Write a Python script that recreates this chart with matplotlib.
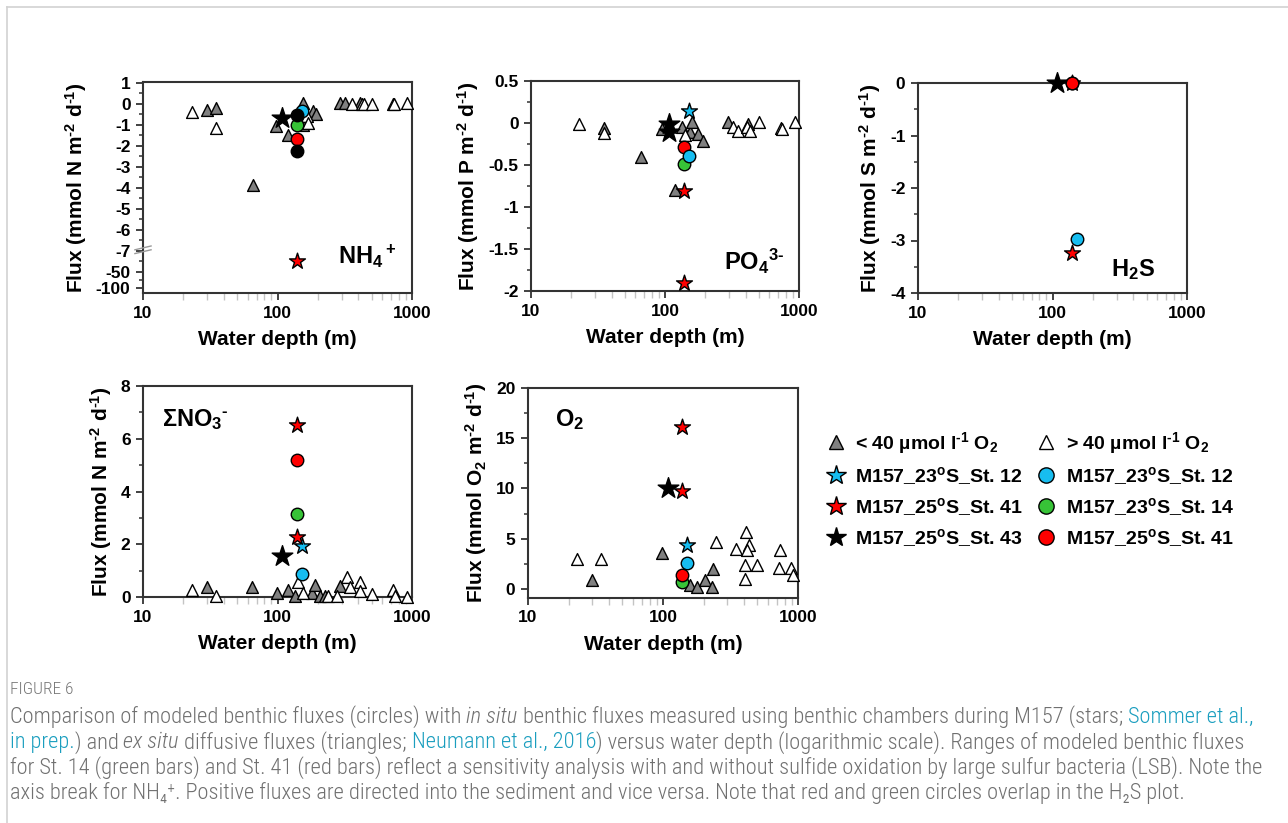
import numpy as np
import matplotlib
matplotlib.use("Agg")
import matplotlib.pyplot as plt
from matplotlib.lines import Line2D
from matplotlib.ticker import FixedLocator, FuncFormatter, NullFormatter
from matplotlib import font_manager

W, H = 1288, 823

plt.rcParams["font.family"] = ["Liberation Sans", "DejaVu Sans"]
plt.rcParams["font.weight"] = "bold"
plt.rcParams["axes.labelweight"] = "bold"
plt.rcParams["axes.unicode_minus"] = False
plt.rcParams["mathtext.default"] = "regular"

HY = "\u2010"  # short hyphen for superscripts (mathtext turns '-' into a wide minus)

# station depths (m)
D_ST12, D_ST14, D_ST41, D_ST43 = 151, 139, 139, 108

# ---- NH4+ ----
NH4_LOW_X = [30, 35, 66, 98, 120, 155, 156, 185, 192, 292, 318, 412]
NH4_LOW_Y = [-0.3, -0.2, -3.86, -1.08, -1.5, -1.0, 0.05, -0.35, -0.5, 0.02, 0.02, 0.02]
NH4_HIGH_X = [23, 35, 165, 170, 356, 422, 440, 500, 727, 740, 913]
NH4_HIGH_Y = [-0.4, -1.15, -0.6, -0.9, 0.0, 0.0, 0.0, 0.0, 0.0, -0.02, 0.02]
NH4_STAR_CYAN, NH4_STAR_RED, NH4_STAR_BLACK = [], [-28], [-0.7]
NH4_CIRC_CYAN, NH4_CIRC_GREEN, NH4_CIRC_RED = [-0.33], [-1.03], [-1.67]
NH4_CIRC_BLACK = [-0.52, -2.24]

# ---- PO4 3- ----
PO4_LOW_X = [35, 66, 95, 119, 133, 154, 158, 177, 191, 293, 417]
PO4_LOW_Y = [-0.06, -0.40, -0.07, -0.80, -0.05, -0.11, 0.01, -0.13, -0.21, 0.01, -0.01]
PO4_HIGH_X = [23, 35, 141, 324, 352, 407, 431, 506, 740, 752, 929]
PO4_HIGH_Y = [-0.01, -0.115, -0.14, -0.05, -0.09, -0.05, -0.09, 0.01, -0.06, -0.07, 0.01]
PO4_STAR_CYAN, PO4_STAR_RED, PO4_STAR_BLACK = [0.14], [-0.81, -1.90], [-0.01, -0.11]
PO4_CIRC_CYAN, PO4_CIRC_GREEN, PO4_CIRC_RED = [-0.39], [-0.49], [-0.285]

# ---- H2S ----
H2S_STAR_CYAN, H2S_STAR_RED, H2S_STAR_BLACK = [], [0.0, -3.23], [0.0]
H2S_CIRC_CYAN, H2S_CIRC_GREEN, H2S_CIRC_RED = [-2.97], [0.0], [0.0]

# ---- sum NO3- ----
NO3_LOW_X = [30, 65, 99, 120, 135, 180, 190, 207, 226, 292]
NO3_LOW_Y = [0.38, 0.38, 0.14, 0.26, 0.04, 0.14, 0.46, 0.04, 0.04, 0.42]
NO3_HIGH_X = [23, 35, 143, 155, 239, 276, 327, 346, 411, 411, 501, 727, 748, 913]
NO3_HIGH_Y = [0.26, 0.04, 0.55, 0.16, 0.04, 0.04, 0.74, 0.38, 0.55, 0.23, 0.1, 0.26, 0.04, 0.0]
NO3_STAR_CYAN, NO3_STAR_RED, NO3_STAR_BLACK = [1.94], [6.54, 2.27], [1.55]
NO3_CIRC_CYAN, NO3_CIRC_GREEN, NO3_CIRC_RED = [0.86], [3.15], [5.21]

# ---- O2 ----
O2_LOW_X = [30, 98, 158, 178, 205, 230, 234]
O2_LOW_Y = [0.94, 3.58, 0.37, 0.2, 0.87, 0.2, 2.03]
O2_HIGH_X = [23, 35, 248, 348, 413, 432, 421, 408, 408, 496, 738, 723, 887, 912]
O2_HIGH_Y = [3.02, 3.02, 4.68, 4.02, 5.67, 4.35, 3.85, 2.36, 1.03, 2.36, 3.85, 2.09, 2.13, 1.36]
O2_STAR_CYAN, O2_STAR_RED, O2_STAR_BLACK = [4.35], [16.1, 9.72], [10.05]
O2_CIRC_CYAN, O2_CIRC_GREEN, O2_CIRC_RED = [2.59], [0.70], [1.43]

CYAN, GREEN, RED, GRAY = "#17bdf0", "#37c337", "#ff0000", "#808080"
MS_TRI, MS_CIRC, MS_STAR = 8.5, 9.0, 12.0

# NH4 axis break: piecewise linear value -> position
BRK_V = [-200, -100, -50, -7, 1, 3]
BRK_P = [-10.34, -8.78, -8.0, -7.0, 1.0, 3.0]


def fwd(v):
    return np.interp(v, BRK_V, BRK_P)


def inv(p):
    return np.interp(p, BRK_P, BRK_V)


fig = plt.figure(figsize=(W / 100, H / 100), dpi=100)


def px_axes(l, t, r, b):
    return fig.add_axes([l / W, 1 - b / H, (r - l) / W, (b - t) / H])


def flux_label(species):
    return f"Flux (mmol {species} m$^{{{HY}2}}$ d$^{{{HY}1}}$)"


def style(ax, ylabel):
    ax.set_xscale("log")
    ax.set_xlim(10, 1000)
    ax.set_xticks([10, 100, 1000])
    ax.set_xticklabels(["10", "100", "1000"])
    ax.xaxis.set_minor_locator(FixedLocator([k * 10 ** e for e in (1, 2) for k in range(2, 10)]))
    ax.xaxis.set_minor_formatter(NullFormatter())
    ax.tick_params(which="major", direction="out", length=5, width=1.3, color="#333333",
                   labelsize=12.5, pad=4)
    ax.tick_params(axis="y", which="minor", direction="out", length=3, width=1.1, color="#333333")
    ax.tick_params(axis="x", which="minor", direction="out", length=5, width=1.0, color="#c4c4c4")
    for sp in ax.spines.values():
        sp.set_linewidth(1.5)
        sp.set_color("#333333")
    ax.set_xlabel("Water depth (m)", fontsize=15, labelpad=7)
    ax.set_ylabel(ylabel, fontsize=15, labelpad=5)


def draw(ax, lx, ly, hx, hy, sc, sr, sk, cc, cg, cr, ck=()):
    kw = dict(edgecolors="black", linewidths=1.0, clip_on=False)
    ax.scatter(lx, ly, marker="^", s=MS_TRI ** 2, color=GRAY, zorder=3, **kw)
    ax.scatter(hx, hy, marker="^", s=MS_TRI ** 2, color="white", zorder=3, **kw)
    ax.scatter([D_ST43] * len(sk), sk, marker="*", s=(MS_STAR * 1.3) ** 2, color="black", zorder=4, **kw)
    ax.scatter([D_ST12] * len(sc), sc, marker="*", s=MS_STAR ** 2, color=CYAN, zorder=4, **kw)
    ax.scatter([D_ST41] * len(sr), sr, marker="*", s=MS_STAR ** 2, color=RED, zorder=4, **kw)
    ax.scatter([D_ST14] * len(cg), cg, marker="o", s=MS_CIRC ** 2, color=GREEN, zorder=5, **kw)
    ax.scatter([D_ST41] * len(cr), cr, marker="o", s=MS_CIRC ** 2, color=RED, zorder=5, **kw)
    ax.scatter([D_ST12] * len(cc), cc, marker="o", s=MS_CIRC ** 2, color=CYAN, zorder=5, **kw)
    ax.scatter([D_ST41] * len(ck), ck, marker="o", s=MS_CIRC ** 2, color="black", zorder=6, **kw)


fmt = FuncFormatter(lambda v, p: f"{v:g}")

# panel 1: NH4+
ax1 = px_axes(143, 82, 412, 293)
ax1.set_yscale("function", functions=(fwd, inv))
draw(ax1, NH4_LOW_X, NH4_LOW_Y, NH4_HIGH_X, NH4_HIGH_Y, NH4_STAR_CYAN, NH4_STAR_RED,
     NH4_STAR_BLACK, NH4_CIRC_CYAN, NH4_CIRC_GREEN, NH4_CIRC_RED, NH4_CIRC_BLACK)
ax1.set_ylim(float(inv(-9.0)), 1.03)
ax1.yaxis.set_major_locator(FixedLocator([1, 0, -1, -2, -3, -4, -5, -6, -7, -50, -100]))
ax1.yaxis.set_major_formatter(fmt)
ax1.yaxis.set_minor_locator(FixedLocator(inv(np.array([0.5] + [-0.5 - i for i in range(7)] + [-7.5, -8.4]))))
ax1.yaxis.set_minor_formatter(NullFormatter())
style(ax1, flux_label("N"))
fb = (fwd(-7.25) - (-9.0)) / (1.03 + 9.0)
for dy in (0.0, 0.018):
    ax1.plot([-0.03, 0.03], [fb - 0.012 + dy, fb + 0.006 + dy], transform=ax1.transAxes,
             color="#9a9a9a", lw=1.0, clip_on=False, zorder=6)
ax1.text(0.725, 0.175, "NH$_4$$^+$", transform=ax1.transAxes, fontsize=17, va="center")

# panel 2: PO4 3-
ax2 = px_axes(531, 81, 799, 291)
draw(ax2, PO4_LOW_X, PO4_LOW_Y, PO4_HIGH_X, PO4_HIGH_Y, PO4_STAR_CYAN, PO4_STAR_RED,
     PO4_STAR_BLACK, PO4_CIRC_CYAN, PO4_CIRC_GREEN, PO4_CIRC_RED)
ax2.set_ylim(-2, 0.5)
ax2.set_yticks([0.5, 0, -0.5, -1, -1.5, -2])
ax2.yaxis.set_major_formatter(fmt)
ax2.yaxis.set_minor_locator(FixedLocator(np.arange(-1.75, 0.5, 0.5)))
style(ax2, flux_label("P"))
ax2.text(0.72, 0.14, f"PO$_4$$^{{3{HY}}}$", transform=ax2.transAxes, fontsize=17, va="center")

# panel 3: H2S
ax3 = px_axes(918, 83, 1187, 293)
draw(ax3, [], [], [], [], H2S_STAR_CYAN, H2S_STAR_RED, H2S_STAR_BLACK,
     H2S_CIRC_CYAN, H2S_CIRC_GREEN, H2S_CIRC_RED)
ax3.set_ylim(-4, 0)
ax3.set_yticks([0, -1, -2, -3, -4])
ax3.yaxis.set_major_formatter(fmt)
ax3.yaxis.set_minor_locator(FixedLocator([-0.5, -1.5, -2.5, -3.5]))
style(ax3, flux_label("S"))
ax3.text(0.717, 0.11, "H$_2$S", transform=ax3.transAxes, fontsize=17, va="center")

# panel 4: sum NO3-
ax4 = px_axes(143, 386, 412, 597)
draw(ax4, NO3_LOW_X, NO3_LOW_Y, NO3_HIGH_X, NO3_HIGH_Y, NO3_STAR_CYAN, NO3_STAR_RED,
     NO3_STAR_BLACK, NO3_CIRC_CYAN, NO3_CIRC_GREEN, NO3_CIRC_RED)
ax4.set_ylim(0, 8)
ax4.set_yticks([0, 2, 4, 6, 8])
ax4.yaxis.set_minor_locator(FixedLocator([1, 3, 5, 7]))
style(ax4, flux_label("N"))
ax4.text(0.07, 0.84, f"\u03a3NO$_3$$^{{{HY}}}$", transform=ax4.transAxes, fontsize=17, va="center")

# panel 5: O2
ax5 = px_axes(528, 388, 798, 598)
draw(ax5, O2_LOW_X, O2_LOW_Y, O2_HIGH_X, O2_HIGH_Y, O2_STAR_CYAN, O2_STAR_RED,
     O2_STAR_BLACK, O2_CIRC_CYAN, O2_CIRC_GREEN, O2_CIRC_RED)
ax5.set_ylim(-0.9, 20)
ax5.set_yticks([0, 5, 10, 15, 20])
ax5.yaxis.set_minor_locator(FixedLocator([2.5, 7.5, 12.5, 17.5]))
style(ax5, flux_label("O$_2$"))
ax5.text(0.1, 0.85, "O$_2$", transform=ax5.transAxes, fontsize=17, va="center")

# legend
def mk(marker, fc, ms):
    return Line2D([], [], ls="", marker=marker, ms=ms, mfc=fc, mec="black", mew=1.0)

handles = [mk("^", GRAY, 10), mk("*", CYAN, 15), mk("*", RED, 15), mk("*", "black", 15),
           mk("^", "white", 10), mk("o", CYAN, 11), mk("o", GREEN, 11), mk("o", RED, 11)]
O2_TXT = f"40 \u00b5mol l$^{{{HY}1}}$ O$_2$"
labels = ["< " + O2_TXT, "M157_23$^{o}$S_St. 12", "M157_25$^{o}$S_St. 41",
          "M157_25$^{o}$S_St. 43", "> " + O2_TXT, "M157_23$^{o}$S_St. 12",
          "M157_23$^{o}$S_St. 14", "M157_25$^{o}$S_St. 41"]
fig.legend(handles, labels, ncol=2, loc="upper left", bbox_to_anchor=(822 / W, 1 - 430 / H),
           frameon=False, fontsize=14, handletextpad=0.3, columnspacing=0.5,
           labelspacing=0.47, borderpad=0, borderaxespad=0, handlelength=1.4)

# outer light frame
fig.add_artist(Line2D([7 / W, 1], [1 - 7 / H, 1 - 7 / H], color="#d2d2d2", lw=1.2))
fig.add_artist(Line2D([7 / W, 7 / W], [0, 1 - 7 / H], color="#d2d2d2", lw=1.2))

# caption
names = {f.name for f in font_manager.fontManager.ttflist}
cap_font = next((n for n in ["Liberation Sans Narrow", "Roboto Condensed", "Lato", "Open Sans"]
                 if n in names), "DejaVu Sans")
CAP_FAM = [cap_font, "DejaVu Sans"]
CAP_W = "light"
TXT, LINK = "#707070", "#1a9ebf"
renderer = fig.canvas.get_renderer()


def width(s, size, style="normal"):
    t = fig.text(0, 0, s, fontsize=size, family=CAP_FAM, fontweight=CAP_W, fontstyle=style)
    w = t.get_window_extent(renderer).width
    t.remove()
    return w


CAP_LINES = [
    [("Comparison of modeled benthic fluxes (circles) with ", "n"), ("in situ", "i"),
     (" benthic fluxes measured using benthic chambers during M157 (stars; ", "n"),
     ("Sommer et al.,", "l")],
    [("in prep.", "l"), (") and ", "n"), ("ex situ", "i"), (" diffusive fluxes (triangles; ", "n"),
     ("Neumann et al., 2016", "l"), (") versus water depth (logarithmic scale). Ranges of modeled benthic fluxes", "n")],
    [("for St. 14 (green bars) and St. 41 (red bars) reflect a sensitivity analysis with and without "
      "sulfide oxidation by large sulfur bacteria (LSB). Note the", "n")],
    [("axis break for NH\u2084\u207a. Positive fluxes are directed into the sediment and vice versa. "
      "Note that red and green circles overlap in the H\u2082S plot.", "n")],
]

full1 = "".join(t for t, _ in CAP_LINES[0])
cap_size = 12 * 1240 / width(full1, 12)

fig.text(10 / W, 1 - 690 / H, "FIGURE 6", fontsize=cap_size * 0.78, family=CAP_FAM,
         fontweight=CAP_W, color="#777777", va="center")

for i, runs in enumerate(CAP_LINES):
    y = 1 - (717 + 25.3 * i) / H
    x = 10.0
    sw = width("a a", cap_size) - width("aa", cap_size)
    for text, kind in runs:
        st = "italic" if kind == "i" else "normal"
        if text.startswith(" "):
            x += sw
        core = text.strip()
        fig.text(x / W, y, core, fontsize=cap_size, family=CAP_FAM, fontweight=CAP_W,
                 fontstyle=st, color=LINK if kind == "l" else TXT, va="center")
        x += width(core, cap_size, st)
        if text.endswith(" "):
            x += sw

fig.savefig("out.png", dpi=100)
